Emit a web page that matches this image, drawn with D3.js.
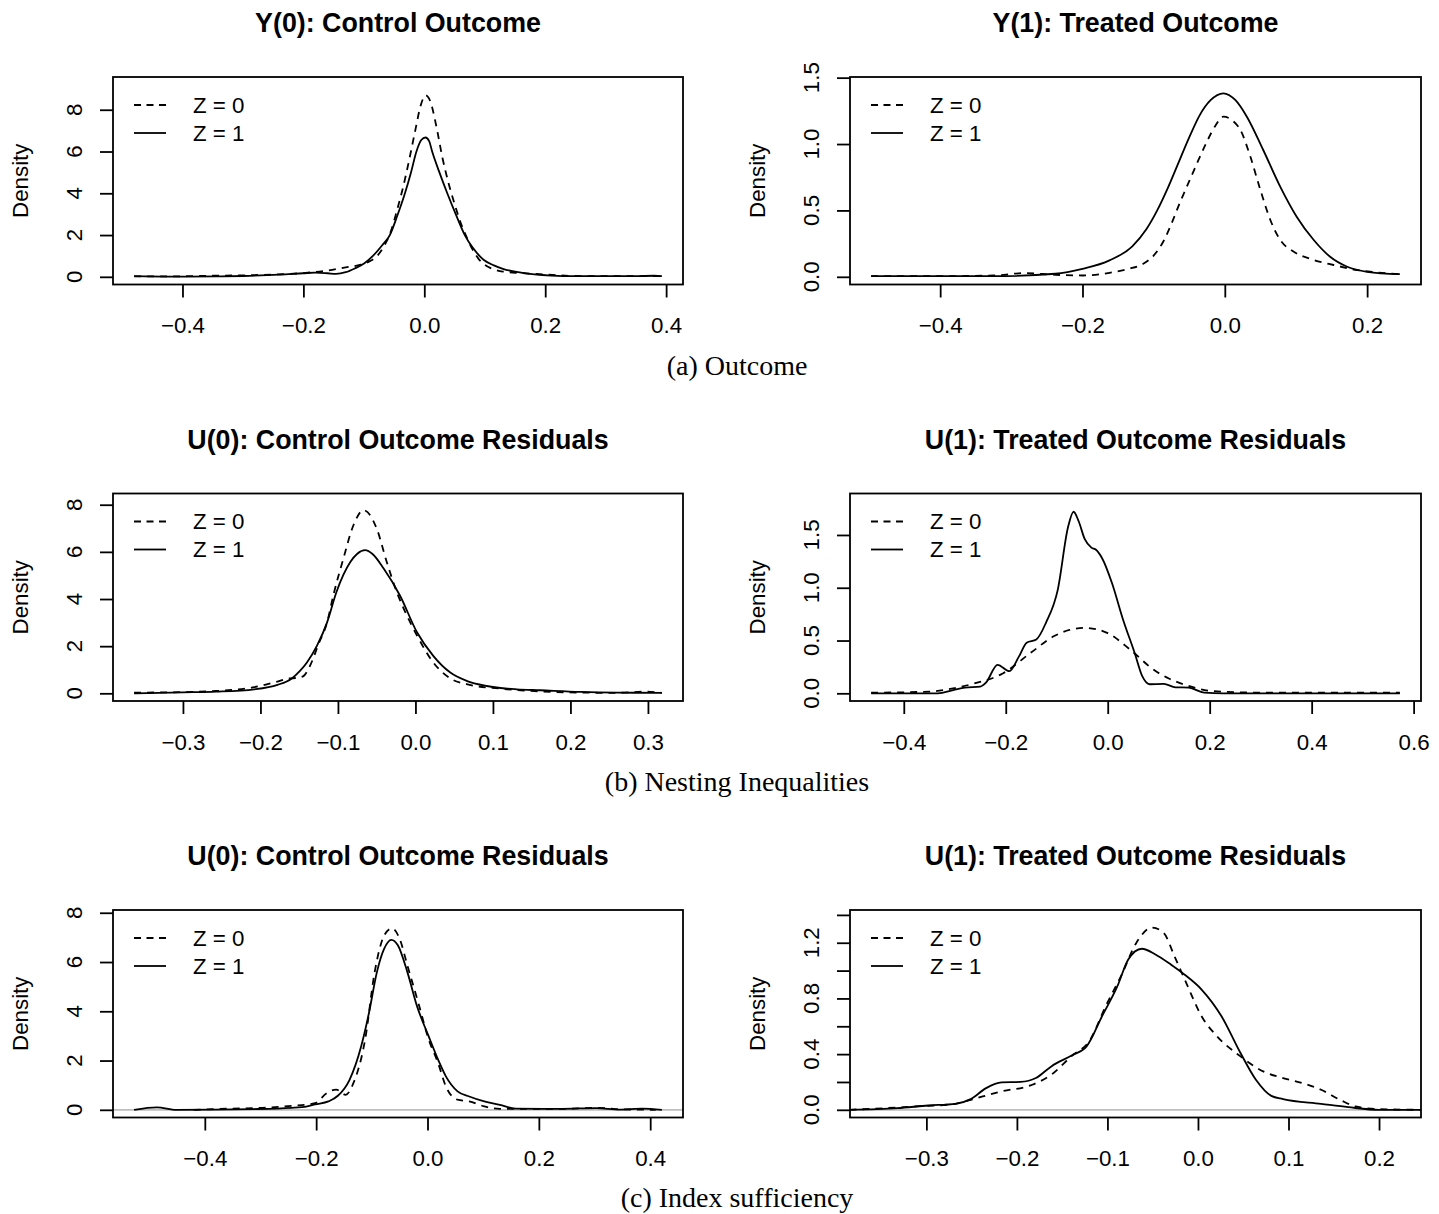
<!DOCTYPE html>
<html>
<head>
<meta charset="utf-8">
<script src="https://cdn.jsdelivr.net/npm/d3@7"></script>
<style>
  body { margin: 0; background: #fff; }
  svg { display: block; font-family: "Liberation Sans", Arial, Helvetica, sans-serif; }
</style>
</head>
<body>
<svg id="chart" width="1439" height="1214"></svg>
<script>
// ---- density curves: [x, density] ----
const y0Z0 = [[-0.48,0.02],[-0.42,0.02],[-0.36,0.05],[-0.30,0.07],[-0.24,0.12],[-0.2,0.18],[-0.16,0.3],[-0.13,0.45],[-0.105,0.58],[-0.09,0.75],[-0.078,1.0],[-0.066,1.5],[-0.055,2.2],[-0.045,3.2],[-0.035,4.3],[-0.025,5.6],[-0.015,7.0],[-0.006,8.2],[0.002,8.69],[0.01,8.4],[0.02,7.2],[0.03,5.7],[0.04,4.5],[0.05,3.5],[0.06,2.6],[0.07,1.9],[0.08,1.3],[0.09,0.85],[0.10,0.58],[0.115,0.36],[0.13,0.25],[0.16,0.18],[0.2,0.11],[0.25,0.04],[0.3,0.03],[0.35,0.03],[0.393,0.03]];
const y0Z1 = [[-0.48,0.03],[-0.42,0.01],[-0.346,0.02],[-0.3,0.04],[-0.24,0.1],[-0.2,0.17],[-0.181,0.2],[-0.16,0.17],[-0.146,0.14],[-0.13,0.22],[-0.115,0.4],[-0.099,0.65],[-0.085,1.0],[-0.07,1.5],[-0.057,2.0],[-0.045,2.9],[-0.032,4.0],[-0.022,5.0],[-0.013,6.0],[-0.005,6.55],[0.002,6.67],[0.008,6.5],[0.013,6.0],[0.025,5.0],[0.038,4.0],[0.052,3.0],[0.067,2.0],[0.08,1.4],[0.098,0.82],[0.115,0.55],[0.13,0.38],[0.16,0.2],[0.21,0.06],[0.25,0.03],[0.3,0.03],[0.35,0.03],[0.38,0.05],[0.393,0.03]];

const y1Z0 = [[-0.497,0.005],[-0.4,0.005],[-0.324,0.01],[-0.281,0.028],[-0.238,0.015],[-0.2,0.01],[-0.162,0.03],[-0.135,0.06],[-0.114,0.1],[-0.1,0.16],[-0.086,0.27],[-0.075,0.4],[-0.063,0.56],[-0.05,0.72],[-0.037,0.88],[-0.025,1.02],[-0.013,1.14],[-0.002,1.206],[0.01,1.18],[0.022,1.105],[0.036,0.904],[0.05,0.654],[0.064,0.428],[0.078,0.277],[0.097,0.189],[0.125,0.127],[0.153,0.089],[0.186,0.051],[0.212,0.034],[0.246,0.02]];
const y1Z1 = [[-0.497,0.005],[-0.42,0.005],[-0.324,0.005],[-0.238,0.023],[-0.2,0.06],[-0.162,0.124],[-0.13,0.23],[-0.11,0.36],[-0.095,0.5],[-0.08,0.67],[-0.065,0.86],[-0.05,1.05],[-0.035,1.22],[-0.02,1.33],[-0.002,1.382],[0.015,1.33],[0.031,1.206],[0.054,0.955],[0.078,0.678],[0.101,0.453],[0.125,0.277],[0.148,0.151],[0.172,0.076],[0.2,0.038],[0.246,0.02]];

const u0NestZ0 = [[-0.363,0.03],[-0.3,0.05],[-0.257,0.1],[-0.208,0.26],[-0.178,0.5],[-0.165,0.62],[-0.152,0.66],[-0.145,0.72],[-0.136,1.17],[-0.125,2.09],[-0.114,3.01],[-0.106,4.15],[-0.093,5.71],[-0.08,7.13],[-0.067,7.77],[-0.05,6.99],[-0.037,5.57],[-0.024,4.29],[-0.013,3.44],[0.002,2.45],[0.023,1.31],[0.045,0.63],[0.066,0.39],[0.109,0.2],[0.14,0.12],[0.18,0.05],[0.213,0.03],[0.26,0.02],[0.297,0.07],[0.318,0.02]];
const u0NestZ1 = [[-0.363,0.0],[-0.3,0.04],[-0.257,0.07],[-0.208,0.17],[-0.178,0.36],[-0.16,0.62],[-0.149,0.95],[-0.14,1.31],[-0.127,2.02],[-0.114,3.01],[-0.102,4.29],[-0.084,5.57],[-0.075,5.92],[-0.065,6.07],[-0.055,5.9],[-0.041,5.29],[-0.02,4.15],[0.002,2.59],[0.023,1.59],[0.045,0.88],[0.066,0.53],[0.092,0.31],[0.131,0.17],[0.161,0.13],[0.213,0.06],[0.26,0.03],[0.318,0.02]];

const u1NestZ0 = [[-0.464,0.006],[-0.348,0.016],[-0.3,0.05],[-0.265,0.089],[-0.205,0.19],[-0.152,0.38],[-0.106,0.54],[-0.075,0.6],[-0.045,0.62],[-0.02,0.605],[0,0.57],[0.045,0.41],[0.091,0.22],[0.12,0.14],[0.152,0.08],[0.205,0.022],[0.303,0.006],[0.573,0.006]];
const u1NestZ1 = [[-0.464,0],[-0.333,0],[-0.303,0.03],[-0.28,0.054],[-0.25,0.063],[-0.239,0.1],[-0.216,0.27],[-0.193,0.21],[-0.174,0.35],[-0.159,0.48],[-0.14,0.51],[-0.121,0.67],[-0.098,0.98],[-0.078,1.57],[-0.067,1.72],[-0.057,1.63],[-0.045,1.46],[-0.032,1.38],[-0.023,1.36],[-0.011,1.28],[0.008,1.05],[0.03,0.70],[0.053,0.38],[0.068,0.16],[0.082,0.086],[0.11,0.089],[0.133,0.057],[0.159,0.054],[0.189,0.006],[0.227,0],[0.573,0]];

const u0IdxZ0 = [[-0.42,0],[-0.382,0.03],[-0.299,0.08],[-0.244,0.16],[-0.202,0.27],[-0.181,0.68],[-0.164,0.82],[-0.147,0.61],[-0.133,1.09],[-0.112,2.86],[-0.095,5.58],[-0.078,7.07],[-0.064,7.37],[-0.05,6.94],[-0.036,5.85],[-0.015,4.22],[0.002,2.86],[0.019,1.9],[0.033,0.95],[0.054,0.41],[0.075,0.34],[0.102,0.14],[0.13,0.04],[0.241,0.04],[0.31,0.08],[0.338,0.03],[0.41,0]];
const u0IdxZ1 = [[-0.527,0],[-0.486,0.1],[-0.451,0],[-0.313,0.03],[-0.244,0.08],[-0.216,0.14],[-0.202,0.22],[-0.178,0.34],[-0.161,0.57],[-0.14,1.22],[-0.119,2.59],[-0.105,3.95],[-0.091,5.58],[-0.078,6.53],[-0.065,6.9],[-0.053,6.67],[-0.036,5.58],[-0.019,4.22],[0.002,2.99],[0.019,2.04],[0.033,1.36],[0.054,0.75],[0.075,0.54],[0.102,0.34],[0.13,0.2],[0.158,0.05],[0.241,0.04],[0.303,0.07],[0.345,0.01],[0.386,0.05],[0.421,0]];

const u1IdxZ0 = [[-0.385,0],[-0.311,0.024],[-0.268,0.043],[-0.251,0.072],[-0.217,0.132],[-0.183,0.18],[-0.162,0.252],[-0.14,0.384],[-0.119,0.504],[-0.102,0.744],[-0.085,0.96],[-0.068,1.2],[-0.051,1.309],[-0.038,1.272],[-0.026,1.104],[-0.013,0.912],[0.004,0.672],[0.021,0.528],[0.047,0.384],[0.072,0.276],[0.094,0.228],[0.115,0.192],[0.136,0.144],[0.157,0.072],[0.174,0.024],[0.2,0.005],[0.246,0]];
const u1IdxZ1 = [[-0.385,0],[-0.332,0.012],[-0.298,0.031],[-0.268,0.043],[-0.251,0.077],[-0.234,0.156],[-0.217,0.197],[-0.196,0.2],[-0.179,0.228],[-0.162,0.312],[-0.14,0.389],[-0.123,0.456],[-0.106,0.672],[-0.089,0.888],[-0.077,1.08],[-0.062,1.157],[-0.047,1.116],[-0.03,1.044],[-0.015,0.972],[0.004,0.864],[0.026,0.672],[0.047,0.408],[0.064,0.216],[0.081,0.1],[0.094,0.077],[0.136,0.043],[0.166,0.019],[0.2,0],[0.246,0]];

// ---- titles, captions, ticks ----
const titles = ["Y(0): Control Outcome", "Y(1): Treated Outcome",
  "U(0): Control Outcome Residuals", "U(1): Treated Outcome Residuals",
  "U(0): Control Outcome Residuals", "U(1): Treated Outcome Residuals"];
const captions = ["(a) Outcome", "(b) Nesting Inequalities", "(c) Index sufficiency"];
const legendLabels = ["Z = 0", "Z = 1"];

const xTicks = [
  [-0.4, -0.2, 0, 0.2, 0.4],
  [-0.4, -0.2, 0, 0.2],
  [-0.3, -0.2, -0.1, 0, 0.1, 0.2, 0.3],
  [-0.4, -0.2, 0, 0.2, 0.4, 0.6],
  [-0.4, -0.2, 0, 0.2, 0.4],
  [-0.3, -0.2, -0.1, 0, 0.1, 0.2]
];
const yTicks = [
  [0, 2, 4, 6, 8],
  [0, 0.5, 1, 1.5],
  [0, 2, 4, 6, 8],
  [0, 0.5, 1, 1.5],
  [0, 2, 4, 6, 8],
  [0, 0.2, 0.4, 0.6, 0.8, 1.0, 1.2, 1.4]
];
const yTickLabels = [
  ["0", "2", "4", "6", "8"],
  ["0.0", "0.5", "1.0", "1.5"],
  ["0", "2", "4", "6", "8"],
  ["0.0", "0.5", "1.0", "1.5"],
  ["0", "2", "4", "6", "8"],
  ["0.0", "", "0.4", "", "0.8", "", "1.2", ""]
];
// axis limits before R's 4% extension
const xLims = [[-0.48, 0.393], [-0.497, 0.246], [-0.363, 0.318], [-0.464, 0.573], [-0.527, 0.421], [-0.361, 0.223]];
const yLims = [[0, 9.2], [0, 1.447], [0, 8.15], [0, 1.82], [0, 7.8], [0, 1.38]];

const z0Series = [y0Z0, y1Z0, u0NestZ0, u1NestZ0, u0IdxZ0, u1IdxZ0];
const z1Series = [y0Z1, y1Z1, u0NestZ1, u1NestZ1, u0IdxZ1, u1IdxZ1];

// ---- layout ----
const boxLeft = [113, 850];
const boxRight = [683, 1421];
const boxTop = [77, 493.5, 910];
const boxH = 207.5;
const captionY = [365, 781, 1197];

const svg = d3.select("#chart");
const fmtMinus = (s) => s.replace("-", "\u2212");

function extend(lim) {
  const d = (lim[1] - lim[0]) * 0.04;
  return [lim[0] - d, lim[1] + d];
}

const line = d3.line().curve(d3.curveMonotoneX);

for (let i = 0; i < 6; i++) {
  const row = Math.floor(i / 2);
  const col = i % 2;
  const x0 = boxLeft[col], x1 = boxRight[col];
  const y0 = boxTop[row], y1 = boxTop[row] + boxH;

  const x = d3.scaleLinear().domain(extend(xLims[i])).range([x0, x1]);
  const y = d3.scaleLinear().domain(extend(yLims[i])).range([y1, y0]);
  line.x((d) => x(d[0])).y((d) => y(d[1]));

  const g = svg.append("g");

  // title
  g.append("text")
    .attr("x", (x0 + x1) / 2)
    .attr("y", y0 - 54)
    .attr("text-anchor", "middle")
    .attr("dominant-baseline", "central")
    .attr("font-size", 26.8)
    .attr("font-weight", "bold")
    .text(titles[i]);

  // y label
  g.append("text")
    .attr("transform", `translate(${x0 - 92.5},${(y0 + y1) / 2}) rotate(-90)`)
    .attr("text-anchor", "middle")
    .attr("dominant-baseline", "central")
    .attr("font-size", 22.3)
    .text("Density");

  // x axis
  const xAxis = g.append("g")
    .attr("transform", `translate(0,${y1})`)
    .call(d3.axisBottom(x).tickValues(xTicks[i]).tickSize(13).tickPadding(20)
      .tickFormat((d) => fmtMinus(d3.format(".1f")(d))));
  xAxis.select(".domain").remove();
  xAxis.selectAll(".tick line").attr("stroke", "#000").attr("stroke-width", 1.8);
  xAxis.selectAll(".tick text").attr("font-size", 22.3).attr("fill", "#000")
    .attr("font-family", "Liberation Sans, Arial, sans-serif");

  // y axis
  const yAxis = g.append("g")
    .attr("transform", `translate(${x0},0)`)
    .call(d3.axisLeft(y).tickValues(yTicks[i]).tickSize(13).tickFormat(""));
  yAxis.select(".domain").remove();
  yAxis.selectAll(".tick line").attr("stroke", "#000").attr("stroke-width", 1.8);
  g.selectAll(".ylab")
    .data(yTicks[i])
    .join("text")
    .attr("transform", (d) => `translate(${x0 - 39},${y(d)}) rotate(-90)`)
    .attr("text-anchor", "middle")
    .attr("dominant-baseline", "central")
    .attr("font-size", 22.3)
    .text((d, k) => yTickLabels[i][k]);

  // gray zero line in the last row
  if (row === 2) {
    g.append("line")
      .attr("x1", x0).attr("x2", x1)
      .attr("y1", y(0)).attr("y2", y(0))
      .attr("stroke", "#bebebe")
      .attr("stroke-width", 1.8);
  }

  // curves
  g.append("path")
    .attr("d", line(z0Series[i]))
    .attr("fill", "none")
    .attr("stroke", "#000")
    .attr("stroke-width", 1.8)
    .attr("stroke-dasharray", "7,6");
  g.append("path")
    .attr("d", line(z1Series[i]))
    .attr("fill", "none")
    .attr("stroke", "#000")
    .attr("stroke-width", 1.8);

  // box
  g.append("rect")
    .attr("x", x0).attr("y", y0)
    .attr("width", x1 - x0).attr("height", boxH)
    .attr("fill", "none")
    .attr("stroke", "#000")
    .attr("stroke-width", 1.8);

  // legend
  legendLabels.forEach((lab, k) => {
    const ly = y0 + 28 + k * 28;
    g.append("line")
      .attr("x1", x0 + 21).attr("x2", x0 + 53)
      .attr("y1", ly).attr("y2", ly)
      .attr("stroke", "#000")
      .attr("stroke-width", 1.8)
      .attr("stroke-dasharray", k === 0 ? "7,5.5" : null);
    g.append("text")
      .attr("x", x0 + 80)
      .attr("y", ly)
      .attr("dominant-baseline", "central")
      .attr("font-size", 22.3)
      .text(lab);
  });
}

// subfigure captions
svg.selectAll(".caption")
  .data(captions)
  .join("text")
  .attr("x", 737)
  .attr("y", (d, k) => captionY[k])
  .attr("text-anchor", "middle")
  .attr("dominant-baseline", "central")
  .attr("font-family", "Liberation Serif, 'DejaVu Serif', serif")
  .attr("font-size", 28)
  .text((d) => d);
</script>
</body>
</html>
